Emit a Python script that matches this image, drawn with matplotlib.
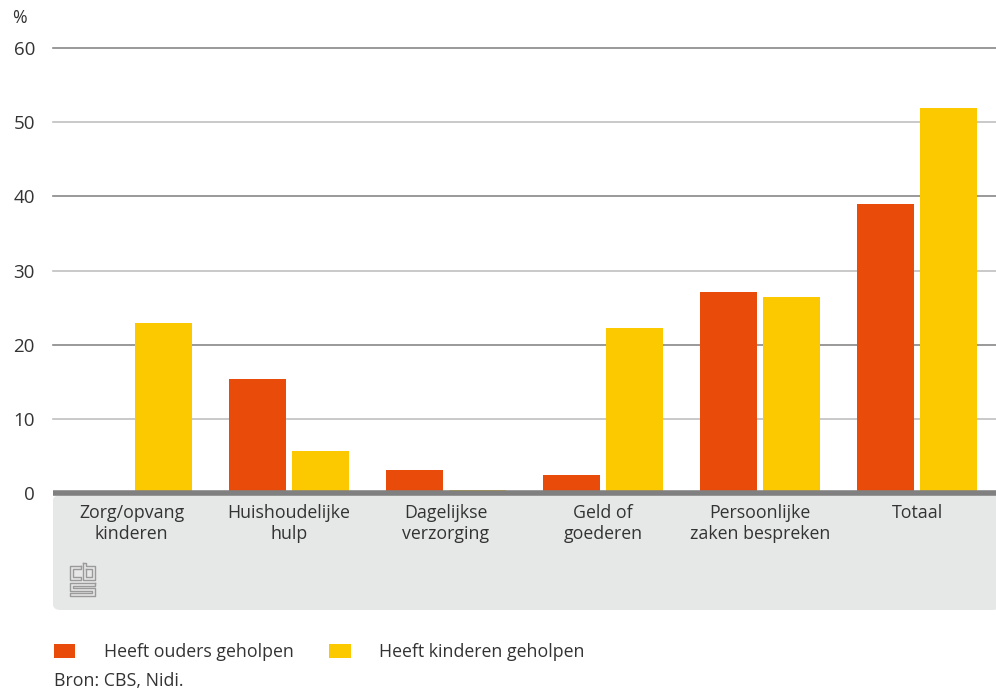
import matplotlib
matplotlib.use('Agg')
import matplotlib.pyplot as plt
from matplotlib.patches import Patch, FancyBboxPatch
from matplotlib.lines import Line2D
import numpy as np

plt.rcParams['font.family'] = ['Open Sans', 'DejaVu Sans']

categories = ['Zorg/opvang\nkinderen', 'Huishoudelijke\nhulp', 'Dagelijkse\nverzorging',
              'Geld of\ngoederen', 'Persoonlijke\nzaken bespreken', 'Totaal']
ouders = [0.0, 15.4, 3.1, 2.4, 27.1, 39.0]
kinderen = [22.9, 5.7, 0.4, 22.2, 26.4, 51.9]
series_names = ['Heeft ouders geholpen', 'Heeft kinderen geholpen']
yticks = [0, 10, 20, 30, 40, 50, 60]

red = '#e94c0a'
yellow = '#fcc800'
txt = '#333333'
fs = 12.8

W, H = 996, 690
fig = plt.figure(figsize=(W / 100, H / 100), dpi=100)

def fx(px):
    return px / W

def fy(py):
    return 1 - py / H

# grey panel under the axis
panel = FancyBboxPatch((fx(53), fy(610)), fx(1000 - 53), fy(495) - fy(610),
                       boxstyle='round,pad=0,rounding_size=0.008',
                       transform=fig.transFigure, facecolor='#e6e7e7',
                       edgecolor='none', zorder=-1)
fig.patches.append(panel)

ax = fig.add_axes([fx(53), fy(493), fx(996 - 53), fy(48) - fy(493)])
ax.set_facecolor('none')

x = np.arange(len(categories))
bw = 0.363
gap = 0.038
ax.bar(x - bw / 2 - gap / 2, ouders, bw, color=red, zorder=3)
ax.bar(x + bw / 2 + gap / 2, kinderen, bw, color=yellow, zorder=3)

for v in yticks[1:]:
    c = '#888888' if v % 20 == 0 else '#c0c0c0'
    ax.axhline(v, color=c, lw=1.2, zorder=1, clip_on=False)
ax.axhline(0, color='#808080', lw=4, zorder=4, clip_on=False, solid_capstyle='butt')

ax.set_xlim(-0.5, len(categories) - 0.5)
ax.set_ylim(0, 60)
ax.set_yticks(yticks)
ax.set_yticklabels([str(v) for v in yticks], fontsize=13.5, color=txt)
ax.set_xticks(x)
ax.set_xticklabels(categories, fontsize=fs, color=txt, linespacing=1.2)
ax.tick_params(axis='y', length=0, pad=13)
ax.tick_params(axis='x', length=0, pad=8)
for s in ax.spines.values():
    s.set_visible(False)

fig.text(fx(12), fy(18), '%', fontsize=fs, color=txt, va='center', ha='left')

# cbs logo (outline sketch)
logo = [
    [(81, 566), (70, 566), (70, 580), (81, 580), (81, 577), (73, 577), (73, 569), (81, 569), (81, 566)],
    [(83, 563), (83, 580), (95, 580), (95, 566), (86, 566), (86, 563), (83, 563)],
    [(86, 569), (92, 569), (92, 577), (86, 577), (86, 569)],
    [(95, 583), (70, 583), (70, 591), (92, 591), (92, 593), (70, 593), (70, 596),
     (95, 596), (95, 588), (73, 588), (73, 586), (95, 586), (95, 583)],
]
for seg in logo:
    xs = [fx(p[0]) for p in seg]
    ys = [fy(p[1]) for p in seg]
    fig.add_artist(Line2D(xs, ys, color='#9a9a9a', lw=1.0, transform=fig.transFigure))

handles = [Patch(facecolor=red, edgecolor='none'), Patch(facecolor=yellow, edgecolor='none')]
fig.legend(handles, series_names, loc='center left', bbox_to_anchor=(fx(38), fy(652)),
           ncol=2, frameon=False, fontsize=fs, handlelength=1.2, handleheight=0.8,
           handletextpad=1.6, columnspacing=2.0, labelcolor=txt)

fig.text(fx(54), fy(681), 'Bron: CBS, Nidi.', fontsize=fs, color=txt, va='center', ha='left')

fig.savefig('out.png', dpi=100)
